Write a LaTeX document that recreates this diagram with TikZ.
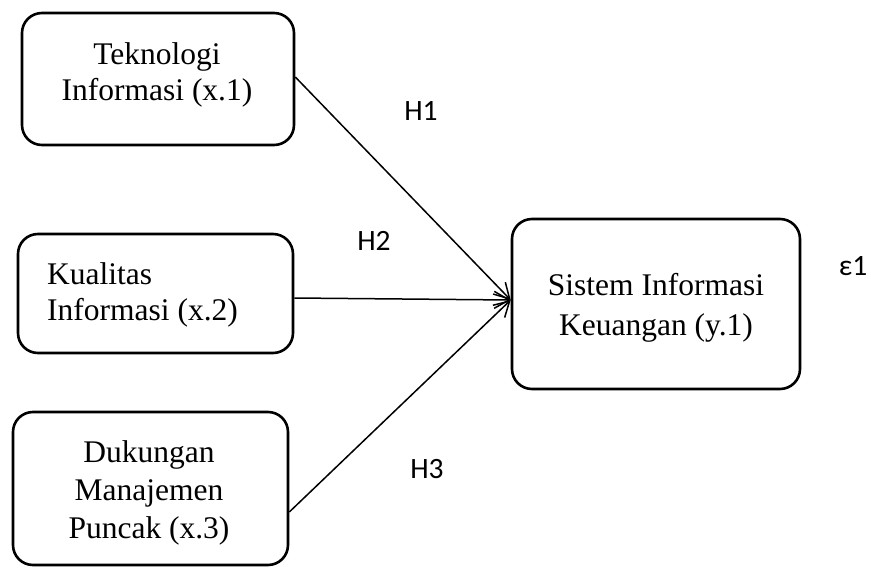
\documentclass[tikz,border=0pt]{standalone}
\usepackage{fontspec}
\setmainfont{Liberation Serif}
\newfontfamily\labfont{Carlito}
\usetikzlibrary{arrows.meta,calc}
\tikzset{
  boxnode/.style={draw, line width=2.6pt, rounded corners=20pt, inner sep=0pt},
  boxtext/.style={inner sep=0pt, font=\fontsize{31.5}{36}\selectfont},
  hlabel/.style={inner sep=0pt, font=\labfont\fontsize{29.5}{34}\selectfont},
  link/.style={line width=1.5pt, -{Straight Barb[length=15pt,width=17pt,line width=1.5pt]}}
}
\begin{document}
\begin{tikzpicture}[x=1pt,y=-1pt]
\useasboundingbox (0,0) rectangle (871,568);
% boxes
\node[boxnode, minimum width=272pt, minimum height=132pt] (b1) at (158,79) {};
\node[boxnode, minimum width=275pt, minimum height=119pt] (b2) at (155.5,293.5) {};
\node[boxnode, minimum width=275pt, minimum height=153pt] (b3) at (150.5,488.5) {};
\node[boxnode, minimum width=288pt, minimum height=170pt] (b4) at (656,304) {};
% texts
\node[boxtext, align=center] (t1) at (157,75) {Teknologi\\Informasi (x.1)};
\node[boxtext, align=left, anchor=west] (t2) at (47,295) {Kualitas\\Informasi (x.2)};
\node[boxtext, align=center, font=\fontsize{31.5}{38}\selectfont] (t3) at (149,492.5) {Dukungan\\Manajemen\\Puncak (x.3)};
\node[boxtext, align=center, font=\fontsize{31.5}{40}\selectfont] (t4) at (656,307.5) {Sistem Informasi\\Keuangan (y.1)};
% labels
\node[hlabel] (h1) at (421,111) {H1};
\node[hlabel] (h2) at (374,241) {H2};
\node[hlabel] (h3) at (427,469) {H3};
\node[hlabel] (e1) at (853,266) {ε1};
% connectors
\coordinate (tgt) at ($(b4.west)+(0,-4)$);
\draw[link] ($(b1.east)+(0,-2)$) -- (tgt);
\draw[link] ($(b2.east)+(0,4.5)$) -- (tgt);
\draw[link] ($(b3.east)+(0,23.5)$) -- (tgt);
\end{tikzpicture}
\end{document}
